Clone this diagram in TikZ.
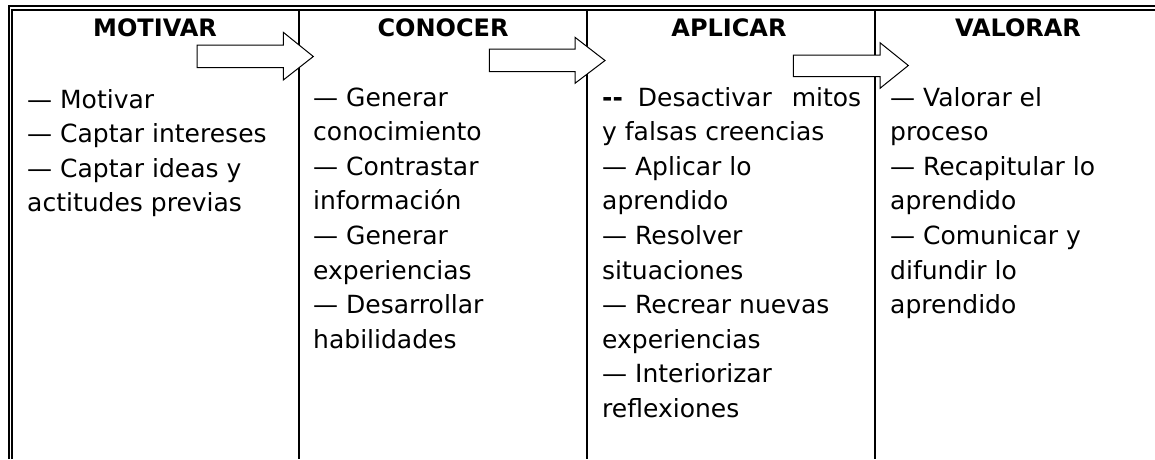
\documentclass[tikz,border=0pt]{standalone}
\usepackage{fontspec}
\setmainfont{DejaVu Sans}
\begin{document}
\begin{tikzpicture}[x=1pt,y=-1pt,
  rule/.style={line width=2pt},
  hdr/.style={font=\fontsize{24}{24}\selectfont\bfseries, anchor=base, inner sep=0pt},
  txt/.style={font=\fontsize{25}{25}\selectfont, anchor=base west, inner sep=0pt},
  blockarrow/.style={draw=black, fill=white, line width=1pt, line join=miter}]
\useasboundingbox (0,0) rectangle (1155,459);
% table rules
\draw[rule] (9,459) -- (9,6.3) -- (1155,6.3);
\draw[rule] (11.8,459) -- (11.8,9.8) -- (1155,9.8);
\foreach \x in {299,587,875} \draw[rule] (\x,9.8) -- (\x,459);
% headers
\node[hdr] (h1) at (155,36) {MOTIVAR};
\node[hdr] (h2) at (443,36) {CONOCER};
\node[hdr] (h3) at (729,36) {APLICAR};
\node[hdr] (h4) at (1018,36) {VALORAR};
% column texts
\foreach \t [count=\i from 0] in {— Motivar, — Captar intereses, — Captar ideas y, actitudes previas}
  \node[txt] (c1-\i) at (27,108+34.6*\i) {\t};
\foreach \t [count=\i from 0] in {— Generar, conocimiento, — Contrastar, información, — Generar, experiencias, — Desarrollar, habilidades}
  \node[txt] (c2-\i) at (313,106+34.6*\i) {\t};
\foreach \t [count=\i from 0] in {{\textbf{-{}-}\hspace{15pt}Desactivar\hspace{20pt}mitos}, y falsas creencias, — Aplicar lo, aprendido, — Resolver, situaciones, — Recrear nuevas, experiencias, — Interiorizar, reflexiones}
  \node[txt] (c3-\i) at (602,106+34.6*\i) {\t};
\foreach \t [count=\i from 0] in {— Valorar el, proceso, — Recapitular lo, aprendido, — Comunicar y, difundir lo, aprendido}
  \node[txt] (c4-\i) at (890,106+34.6*\i) {\t};
% block arrows
\draw[blockarrow] (197,45) -- (283.3,45) -- (283.3,32.3) -- (313.3,56.5) -- (283.3,80) -- (283.3,67.7) -- (197,67.7) -- cycle;
\draw[blockarrow] (489.3,49) -- (575,49) -- (575,37.3) -- (605,60.5) -- (575,83.3) -- (575,71.7) -- (489.3,71.7) -- cycle;
\draw[blockarrow] (793.3,55) -- (880,55) -- (880,42.7) -- (908.3,65.5) -- (880,88.3) -- (880,76.7) -- (793.3,76.7) -- cycle;
\end{tikzpicture}
\end{document}
